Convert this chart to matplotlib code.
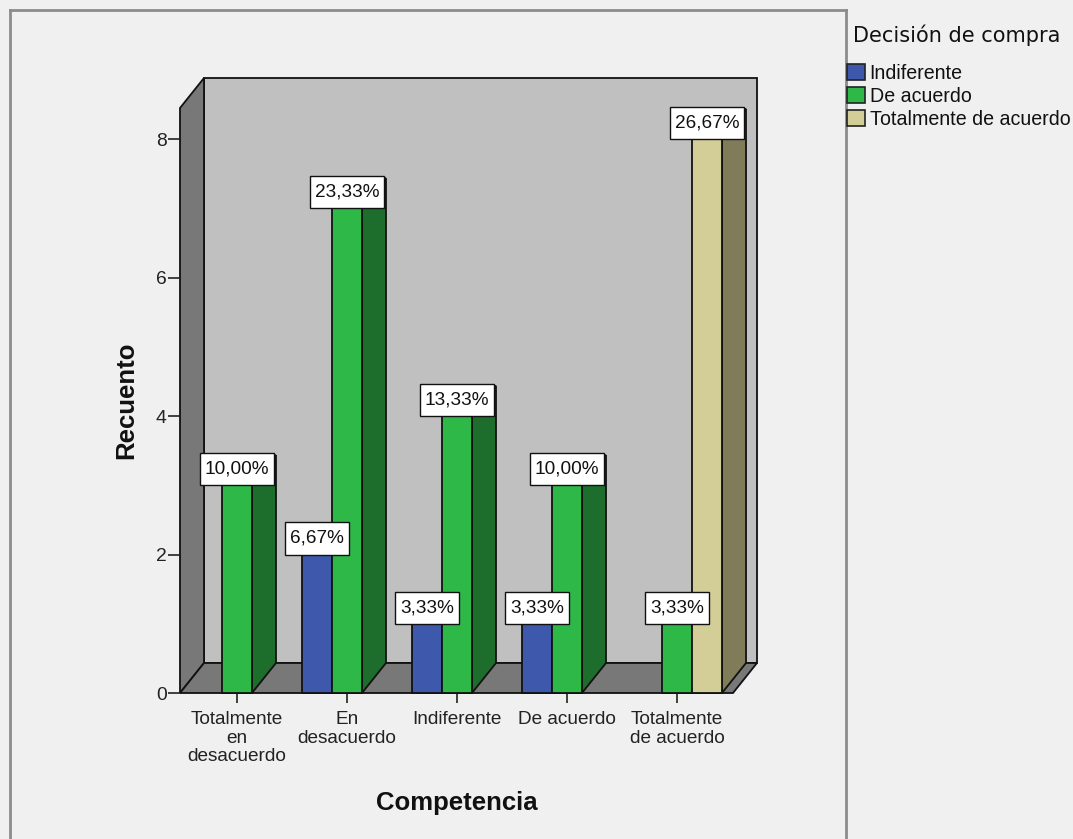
import matplotlib
matplotlib.use("Agg")
import matplotlib.pyplot as plt
from matplotlib.patches import Polygon, Rectangle, Patch
from matplotlib.lines import Line2D
from matplotlib.path import Path
from matplotlib.font_manager import FontProperties

plt.rcParams['font.family'] = ['Liberation Sans', 'DejaVu Sans']

# ---- data -------------------------------------------------------------
categories = ["Totalmente\nen\ndesacuerdo", "En\ndesacuerdo", "Indiferente",
              "De acuerdo", "Totalmente\nde acuerdo"]
series_names = ["Indiferente", "De acuerdo", "Totalmente de acuerdo"]
indiferente = [0, 2, 1, 1, 0]
de_acuerdo = [3, 7, 4, 3, 1]
totalmente_de_acuerdo = [0, 0, 0, 0, 8]
y_ticks = [0, 2, 4, 6, 8]

series = [indiferente, de_acuerdo, totalmente_de_acuerdo]
front_colors = ["#3e58ac", "#2eb848", "#d3ce97"]
side_colors = ["#24346a", "#1d6e2c", "#807c59"]
top_colors = ["#32478c", "#259a3b", "#b7b27f"]

total = sum(sum(s) for s in series)

# ---- figure / axes ----------------------------------------------------
W, H = 1073, 839
BG = "#f0f0f0"
fig = plt.figure(figsize=(W / 100, H / 100), dpi=100, facecolor=BG)


def px_rect(left, top, right, bottom):
    return [left / W, 1 - bottom / H, (right - left) / W, (bottom - top) / H]


ax = fig.add_axes(px_rect(180, 108, 733, 693))
ax.set_facecolor("none")
xmin, xmax = -0.518, 4.509
ymin, ymax = 0.0, 8.448
ax.set_xlim(xmin, xmax)
ax.set_ylim(ymin, ymax)
for sp in ax.spines.values():
    sp.set_visible(False)

# depth of the 3D box expressed in data units
px_x = ax.bbox.width / (xmax - xmin)
px_y = ax.bbox.height / (ymax - ymin)
dx = 24 / px_x
dy = 30 / px_y

EDGE = "#111111"
WALL = "#787878"
LW = 1.3

# back wall
ax.add_patch(Rectangle((xmin + dx, ymin + dy), xmax - xmin, ymax - ymin,
                       facecolor="#c0c0c0", edgecolor=EDGE, lw=LW,
                       clip_on=False, zorder=1))
# left wall
ax.add_patch(Polygon([(xmin, ymin), (xmin, ymax), (xmin + dx, ymax + dy),
                      (xmin + dx, ymin + dy)], closed=True,
                     facecolor=WALL, edgecolor=EDGE, lw=LW,
                     clip_on=False, zorder=1))
# floor
ax.add_patch(Polygon([(xmin, ymin), (xmax, ymin), (xmax + dx, ymin + dy),
                      (xmin + dx, ymin + dy)], closed=True,
                     facecolor=WALL, edgecolor=EDGE, lw=LW,
                     clip_on=False, zorder=1))

# ---- bars ---------------------------------------------------------------
bar_w = 30 / px_x
x_idx = list(range(len(categories)))

for si, vals in enumerate(series):
    off = (si - 1) * bar_w
    for xi, v in zip(x_idx, vals):
        if v <= 0:
            continue
        x0 = xi + off - bar_w / 2
        x1 = x0 + bar_w
        # side face
        ax.add_patch(Polygon([(x1, 0), (x1 + dx, dy), (x1 + dx, v + dy), (x1, v)],
                             closed=True, facecolor=side_colors[si],
                             edgecolor=EDGE, lw=LW, clip_on=False, zorder=2))
        # top face
        ax.add_patch(Polygon([(x0, v), (x1, v), (x1 + dx, v + dy), (x0 + dx, v + dy)],
                             closed=True, facecolor=top_colors[si],
                             edgecolor=EDGE, lw=LW, clip_on=False, zorder=2))
    ax.bar([xi + off for xi in x_idx], vals, width=bar_w,
           color=[front_colors[si] if v > 0 else "none" for v in vals],
           edgecolor=[EDGE if v > 0 else "none" for v in vals],
           linewidth=LW, zorder=3, clip_on=False)

# value labels (percentage of the total count)
LABEL_FS = 13.7
PAD_X, PAD_Y = 0.25, 0.40


def label_box(x0, y0, width, height, mutation_size):
    px_ = PAD_X * mutation_size
    py_ = PAD_Y * mutation_size
    xa, ya = x0 - px_, y0 - py_
    xb, yb = x0 + width + px_, y0 + height + py_
    return Path([(xa, ya), (xb, ya), (xb, yb), (xa, yb), (xa, ya)], closed=True)


for si, vals in enumerate(series):
    off = (si - 1) * bar_w
    for xi, v in zip(x_idx, vals):
        if v <= 0:
            continue
        pct = v / total * 100
        txt = f"{pct:.2f}%".replace(".", ",")
        ax.annotate(txt, xy=(xi + off, v), xytext=(0, PAD_Y * LABEL_FS),
                    textcoords="offset points", ha="center", va="bottom",
                    fontsize=LABEL_FS, color="#111111", zorder=6,
                    annotation_clip=False,
                    bbox=dict(boxstyle=label_box, facecolor="white",
                              edgecolor="#111111", lw=1.0))

# ---- axes decoration ----------------------------------------------------
ax.set_yticks(y_ticks)
ax.set_yticklabels([str(t) for t in y_ticks])
ax.set_xticks(x_idx)
ax.set_xticklabels(categories, linespacing=1.12, multialignment="center")
ax.tick_params(axis="y", direction="out", length=8.6, width=1.2, pad=1,
               labelsize=13.9, colors="#222222")
ax.tick_params(axis="x", direction="out", length=7.5, width=1.2, pad=5.5,
               labelsize=13.7, colors="#222222")

ax.set_ylabel("Recuento", fontsize=18.5, fontweight="bold", color="#111111")
ax.yaxis.set_label_coords(-0.076, 0.5)
ax.set_xlabel("Competencia", fontsize=18.5, fontweight="bold", color="#111111")
ax.xaxis.set_label_coords(0.5, -0.167)

# ---- chart frame ------------------------------------------------------------
frame_col = "#8c8c8c"
fig.add_artist(Line2D([10 / W, 10 / W], [0, 1 - 10 / H], transform=fig.transFigure,
                      color=frame_col, lw=2))
fig.add_artist(Line2D([10 / W, 846 / W], [1 - 10 / H, 1 - 10 / H],
                      transform=fig.transFigure, color=frame_col, lw=2))
fig.add_artist(Line2D([846 / W, 846 / W], [0, 1 - 10 / H], transform=fig.transFigure,
                      color=frame_col, lw=2))

# ---- legend -----------------------------------------------------------------
fig.text(853 / W, 1 - 42 / H, "Decisión de compra", ha="left", va="baseline",
         fontproperties=FontProperties(family="DejaVu Sans", size=15.0),
         color="#111111")
handles = [Patch(facecolor=c, edgecolor="#222222", lw=1.2) for c in front_colors]
leg = fig.legend(handles, series_names,
                 loc="upper left", bbox_to_anchor=(847 / W, 1 - 64 / H),
                 frameon=False, prop=FontProperties(family="Liberation Sans", size=14.1),
                 handlelength=0.9, handleheight=0.9, handletextpad=0.25,
                 labelspacing=0.2, borderpad=0, borderaxespad=0)
for t in leg.get_texts():
    t.set_color("#111111")

fig.savefig("out.png", dpi=100, facecolor=BG)
